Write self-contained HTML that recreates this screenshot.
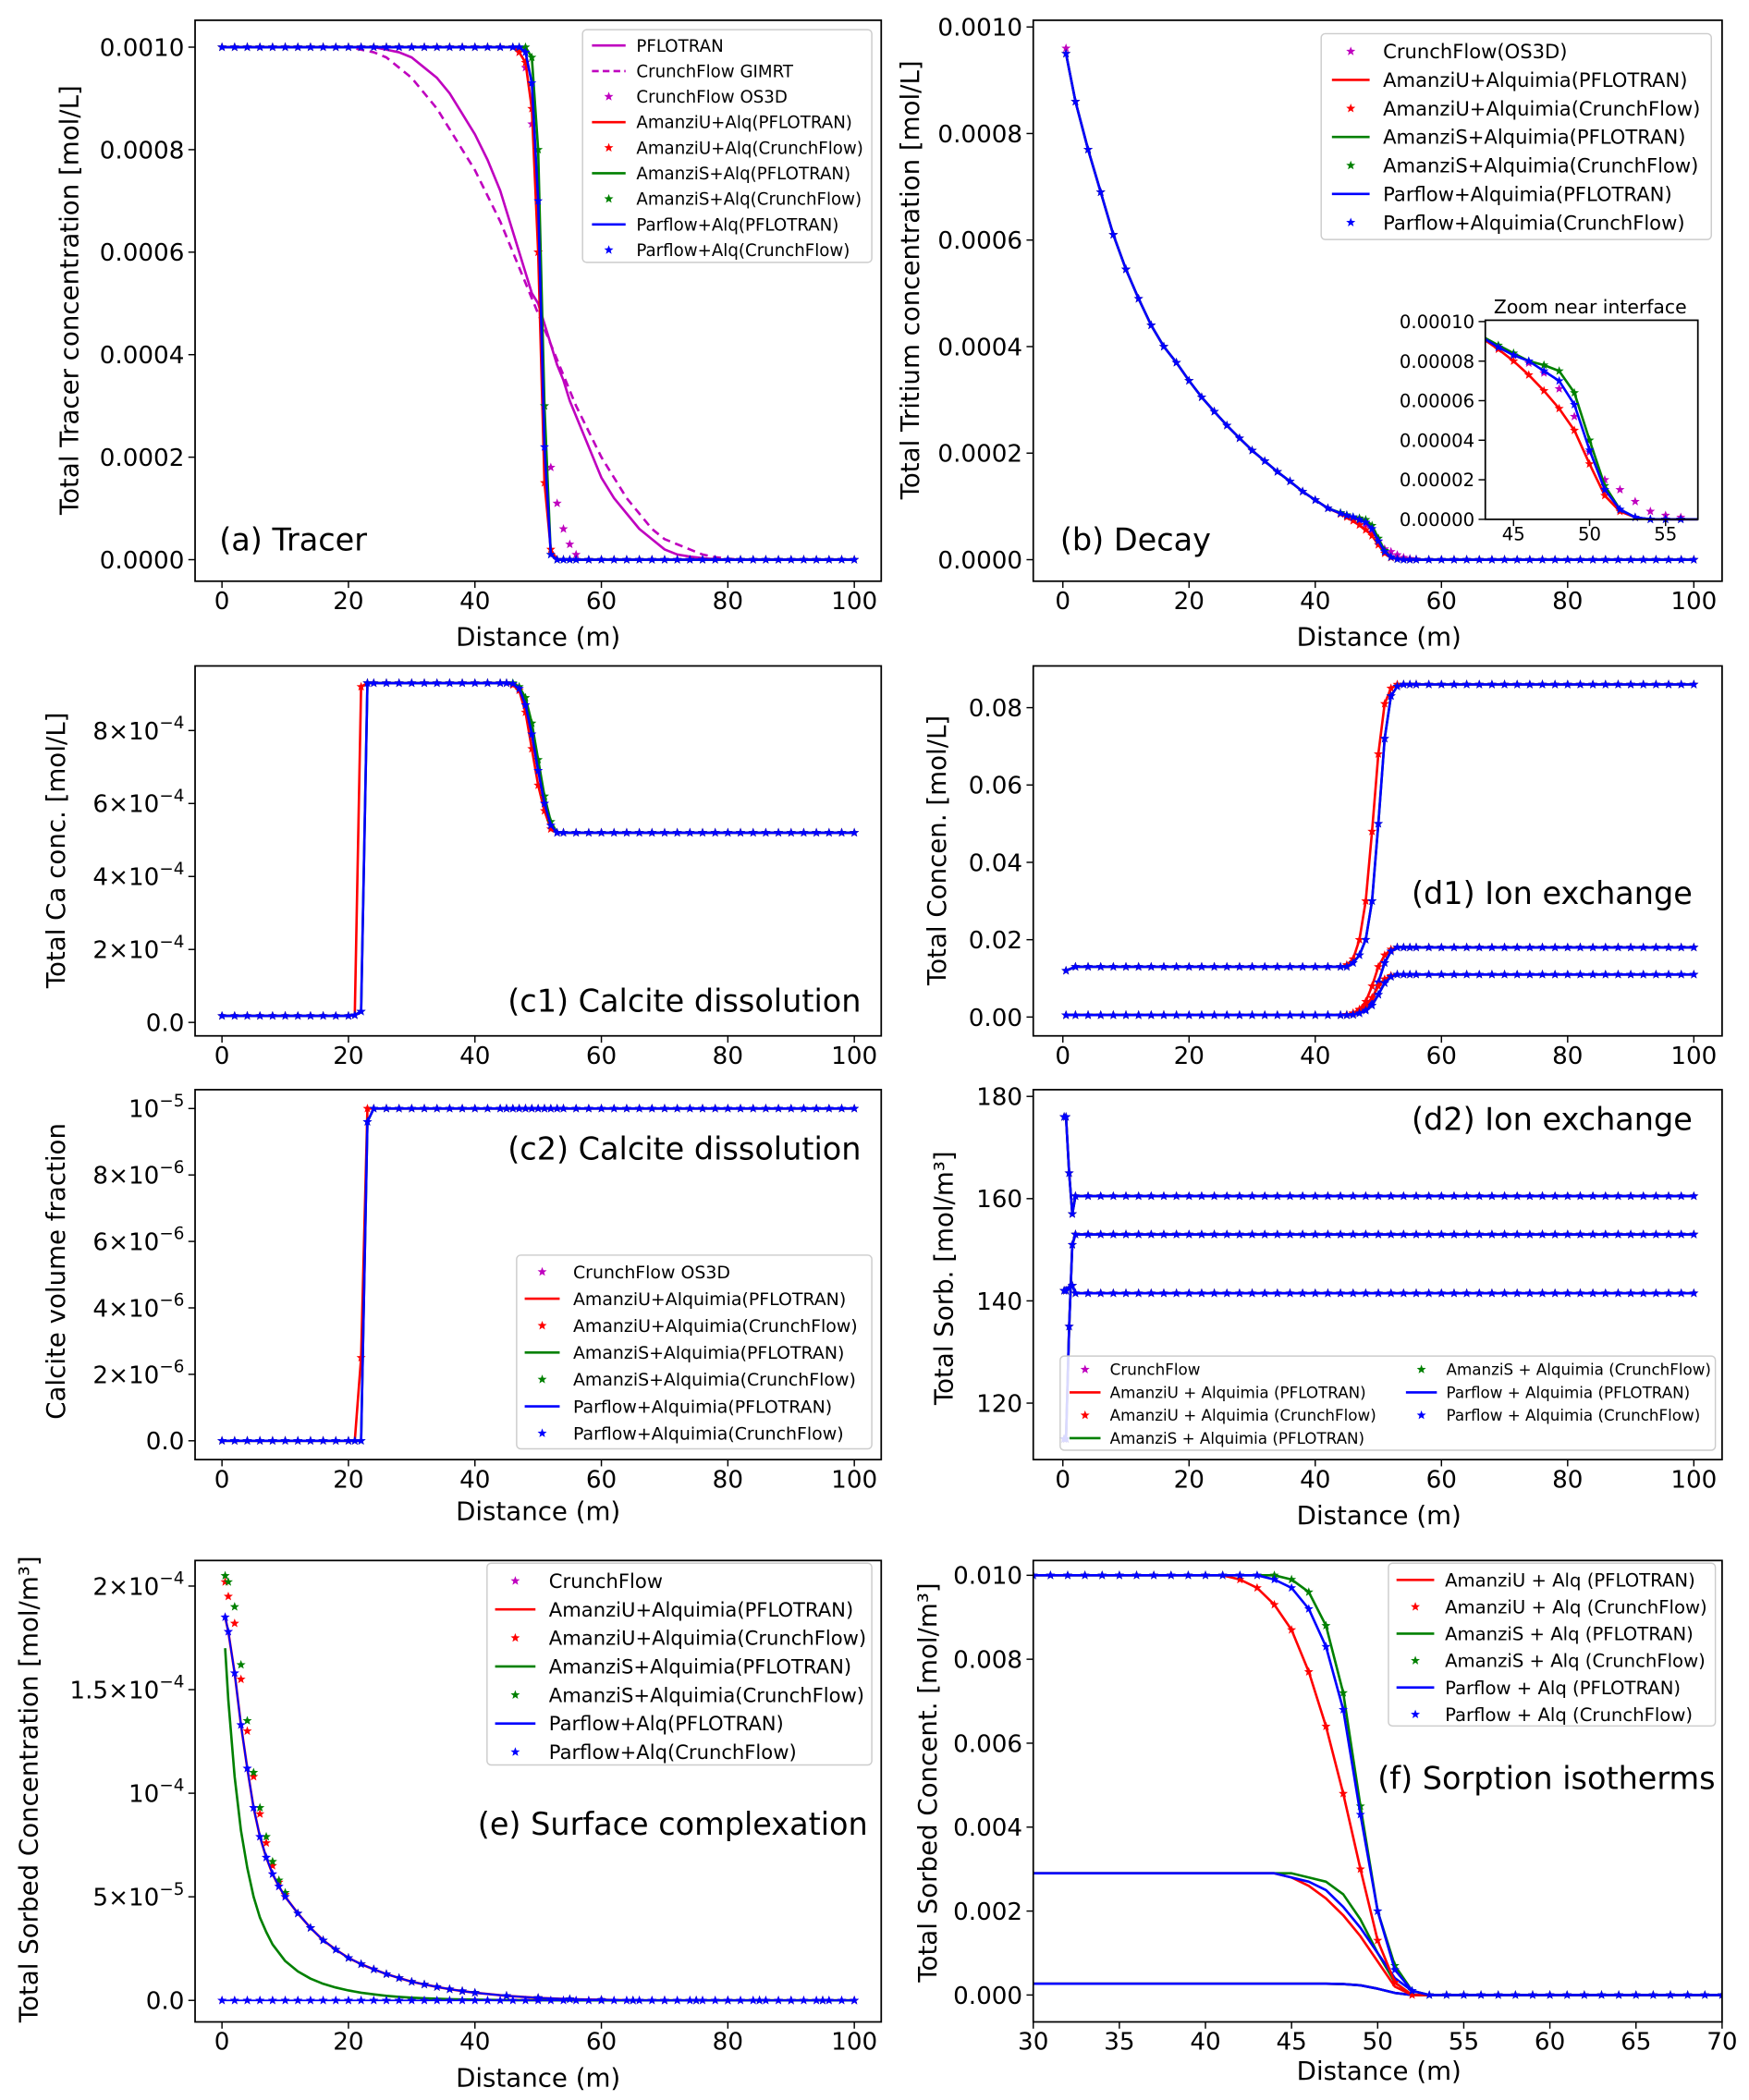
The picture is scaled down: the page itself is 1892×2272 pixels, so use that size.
<!DOCTYPE html>
<html><head><meta charset="utf-8"><style>
html,body{margin:0;padding:0;background:#fff}
svg{display:block}
text{font-family:"DejaVu Sans","Liberation Sans",sans-serif;fill:#000}
</style></head><body>
<svg id="fig" xmlns="http://www.w3.org/2000/svg" width="1892" height="2272" viewBox="0 0 1300 1561"></svg>
<script>
// ---------- DATA ----------
const XA=[0,2,4,6,8,10,12,14,16,18,20,22,24,26,28,30,32,34,36,38,40,42,44,46,47,48,49,50,51,52,53,54,55,56,58,60,62,64,66,68,70,72,74,76,78,80,82,84,86,88,90,92,94,96,98,100];
const A_PF=[0.001,0.001,0.001,0.001,0.001,0.001,0.001,0.001,0.001,0.001,0.001,0.001,0.001,0.000995,0.00099,0.00098,0.00096,0.00094,0.00091,0.00087,0.00083,0.00078,0.00072,0.00064,0.0006,0.00056,0.00052,0.0005,0.00046,0.00042,0.00038,0.00035,0.00031,0.00028,0.00022,0.00016,0.00012,0.00009,0.00006,0.00004,0.00002,0.00001,0.000006,0.000003,0.000001,0,0,0,0,0,0,0,0,0,0,0];
const A_GIMRT=[0.001,0.001,0.001,0.001,0.001,0.001,0.001,0.001,0.001,0.001,0.001,0.000995,0.00099,0.00098,0.00096,0.00094,0.00091,0.00088,0.00084,0.0008,0.00076,0.00071,0.00066,0.0006,0.00057,0.00054,0.00051,0.00048,0.00045,0.00042,0.00039,0.00036,0.00033,0.0003,0.00025,0.0002,0.00016,0.00012,0.00009,0.00006,0.00004,0.00003,0.00002,0.00001,0.000005,0.000002,0,0,0,0,0,0,0,0,0,0];
const A_OS3D=[0.001,0.001,0.001,0.001,0.001,0.001,0.001,0.001,0.001,0.001,0.001,0.001,0.001,0.001,0.001,0.001,0.001,0.001,0.001,0.001,0.001,0.001,0.001,0.001,0.00099,0.00096,0.00085,0.0006,0.0003,0.00018,0.00011,0.00006,0.00003,0.00001,0,0,0,0,0,0,0,0,0,0,0,0,0,0,0,0,0,0,0,0,0,0];
const A_AU=[0.001,0.001,0.001,0.001,0.001,0.001,0.001,0.001,0.001,0.001,0.001,0.001,0.001,0.001,0.001,0.001,0.001,0.001,0.001,0.001,0.001,0.001,0.001,0.001,0.00099,0.00097,0.00088,0.0006,0.00015,0.00002,0,0,0,0,0,0,0,0,0,0,0,0,0,0,0,0,0,0,0,0,0,0,0,0,0,0];
const A_AS=[0.001,0.001,0.001,0.001,0.001,0.001,0.001,0.001,0.001,0.001,0.001,0.001,0.001,0.001,0.001,0.001,0.001,0.001,0.001,0.001,0.001,0.001,0.001,0.001,0.001,0.001,0.00098,0.0008,0.0003,0.00001,0,0,0,0,0,0,0,0,0,0,0,0,0,0,0,0,0,0,0,0,0,0,0,0,0,0];
const A_PA=[0.001,0.001,0.001,0.001,0.001,0.001,0.001,0.001,0.001,0.001,0.001,0.001,0.001,0.001,0.001,0.001,0.001,0.001,0.001,0.001,0.001,0.001,0.001,0.001,0.001,0.00099,0.00093,0.0007,0.00022,0.00001,0,0,0,0,0,0,0,0,0,0,0,0,0,0,0,0,0,0,0,0,0,0,0,0,0,0];

const XB=[0.5,2,4,6,8,10,12,14,16,18,20,22,24,26,28,30,32,34,36,38,40,42,44,45,46,47,48,49,50,51,52,53,54,55,56,58,60,62,64,66,68,70,72,74,76,78,80,82,84,86,88,90,92,94,96,98,100];
const B_R=[0.00095,0.00086,0.00077,0.00069,0.00061,0.000545,0.00049,0.00044,0.0004,0.00037,0.000336,0.000305,0.000278,0.000252,0.000228,0.000205,0.000185,0.000165,0.000147,0.000128,0.000112,0.0000965,0.000086,0.00008,0.000073,0.000065,0.000056,0.000045,0.000028,0.000012,0.000004,0.000001,0,0,0,0,0,0,0,0,0,0,0,0,0,0,0,0,0,0,0,0,0,0,0,0,0];
const B_G=[0.00095,0.00086,0.00077,0.00069,0.00061,0.000545,0.00049,0.00044,0.0004,0.00037,0.000336,0.000305,0.000278,0.000252,0.000228,0.000205,0.000185,0.000165,0.000147,0.000128,0.000112,0.0000965,0.000088,0.000084,0.00008,0.000078,0.000075,0.000064,0.00004,0.000017,0.000005,0.000001,0,0,0,0,0,0,0,0,0,0,0,0,0,0,0,0,0,0,0,0,0,0,0,0,0];
const B_B=[0.00095,0.00086,0.00077,0.00069,0.00061,0.000545,0.00049,0.00044,0.0004,0.00037,0.000336,0.000305,0.000278,0.000252,0.000228,0.000205,0.000185,0.000165,0.000147,0.000128,0.000112,0.0000965,0.000087,0.000083,0.00008,0.000075,0.00007,0.000058,0.000035,0.000015,0.000005,0.000001,0,0,0,0,0,0,0,0,0,0,0,0,0,0,0,0,0,0,0,0,0,0,0,0,0];
const B_M=[0.00096,0.00086,0.00077,0.00069,0.00061,0.000545,0.00049,0.00044,0.0004,0.00037,0.000336,0.000305,0.000278,0.000252,0.000228,0.000205,0.000185,0.000165,0.000147,0.000128,0.000112,0.0000965,0.000087,0.000083,0.000079,0.000074,0.000066,0.000052,0.000034,0.00002,0.000015,0.000009,0.000004,0.000002,0.000001,0,0,0,0,0,0,0,0,0,0,0,0,0,0,0,0,0,0,0,0,0,0];

const XC=[0,2,4,6,8,10,12,14,16,18,20,21,22,23,24,26,28,30,32,34,36,38,40,42,44,45,46,47,48,49,50,51,52,53,54,56,58,60,62,64,66,68,70,72,74,76,78,80,82,84,86,88,90,92,94,96,98,100];
const C_R=[1.8e-5,1.8e-5,1.8e-5,1.8e-5,1.8e-5,1.8e-5,1.8e-5,1.8e-5,1.8e-5,1.8e-5,1.8e-5,2e-5,9.2e-4,9.3e-4,9.3e-4,9.3e-4,9.3e-4,9.3e-4,9.3e-4,9.3e-4,9.3e-4,9.3e-4,9.3e-4,9.3e-4,9.3e-4,9.3e-4,9.25e-4,9.1e-4,8.5e-4,7.5e-4,6.5e-4,5.8e-4,5.3e-4,5.2e-4,5.2e-4,5.2e-4,5.2e-4,5.2e-4,5.2e-4,5.2e-4,5.2e-4,5.2e-4,5.2e-4,5.2e-4,5.2e-4,5.2e-4,5.2e-4,5.2e-4,5.2e-4,5.2e-4,5.2e-4,5.2e-4,5.2e-4,5.2e-4,5.2e-4,5.2e-4,5.2e-4,5.2e-4];
const C_G=[1.8e-5,1.8e-5,1.8e-5,1.8e-5,1.8e-5,1.8e-5,1.8e-5,1.8e-5,1.8e-5,1.8e-5,1.8e-5,2e-5,3e-5,9.3e-4,9.3e-4,9.3e-4,9.3e-4,9.3e-4,9.3e-4,9.3e-4,9.3e-4,9.3e-4,9.3e-4,9.3e-4,9.3e-4,9.3e-4,9.3e-4,9.2e-4,8.9e-4,8.2e-4,7.2e-4,6.2e-4,5.5e-4,5.2e-4,5.2e-4,5.2e-4,5.2e-4,5.2e-4,5.2e-4,5.2e-4,5.2e-4,5.2e-4,5.2e-4,5.2e-4,5.2e-4,5.2e-4,5.2e-4,5.2e-4,5.2e-4,5.2e-4,5.2e-4,5.2e-4,5.2e-4,5.2e-4,5.2e-4,5.2e-4,5.2e-4,5.2e-4];
const C_B=[1.8e-5,1.8e-5,1.8e-5,1.8e-5,1.8e-5,1.8e-5,1.8e-5,1.8e-5,1.8e-5,1.8e-5,1.8e-5,2e-5,3e-5,9.3e-4,9.3e-4,9.3e-4,9.3e-4,9.3e-4,9.3e-4,9.3e-4,9.3e-4,9.3e-4,9.3e-4,9.3e-4,9.3e-4,9.3e-4,9.28e-4,9.15e-4,8.7e-4,7.9e-4,6.9e-4,6e-4,5.4e-4,5.2e-4,5.2e-4,5.2e-4,5.2e-4,5.2e-4,5.2e-4,5.2e-4,5.2e-4,5.2e-4,5.2e-4,5.2e-4,5.2e-4,5.2e-4,5.2e-4,5.2e-4,5.2e-4,5.2e-4,5.2e-4,5.2e-4,5.2e-4,5.2e-4,5.2e-4,5.2e-4,5.2e-4,5.2e-4];
const C2_R=[0,0,0,0,0,0,0,0,0,0,0,0,2.5e-6,1e-5,1e-5,1e-5,1e-5,1e-5,1e-5,1e-5,1e-5,1e-5,1e-5,1e-5,1e-5,1e-5,1e-5,1e-5,1e-5,1e-5,1e-5,1e-5,1e-5,1e-5,1e-5,1e-5,1e-5,1e-5,1e-5,1e-5,1e-5,1e-5,1e-5,1e-5,1e-5,1e-5,1e-5,1e-5,1e-5,1e-5,1e-5,1e-5,1e-5,1e-5,1e-5,1e-5,1e-5,1e-5];
const C2_B=[0,0,0,0,0,0,0,0,0,0,0,0,0,9.6e-6,1e-5,1e-5,1e-5,1e-5,1e-5,1e-5,1e-5,1e-5,1e-5,1e-5,1e-5,1e-5,1e-5,1e-5,1e-5,1e-5,1e-5,1e-5,1e-5,1e-5,1e-5,1e-5,1e-5,1e-5,1e-5,1e-5,1e-5,1e-5,1e-5,1e-5,1e-5,1e-5,1e-5,1e-5,1e-5,1e-5,1e-5,1e-5,1e-5,1e-5,1e-5,1e-5,1e-5,1e-5];

const D_UR=[0.012,0.013,0.013,0.013,0.013,0.013,0.013,0.013,0.013,0.013,0.013,0.013,0.013,0.013,0.013,0.013,0.013,0.013,0.013,0.013,0.013,0.013,0.013,0.0135,0.015,0.02,0.03,0.048,0.068,0.081,0.085,0.086,0.086,0.086,0.086,0.086,0.086,0.086,0.086,0.086,0.086,0.086,0.086,0.086,0.086,0.086,0.086,0.086,0.086,0.086,0.086,0.086,0.086,0.086,0.086,0.086,0.086];
const D_UB=[0.012,0.013,0.013,0.013,0.013,0.013,0.013,0.013,0.013,0.013,0.013,0.013,0.013,0.013,0.013,0.013,0.013,0.013,0.013,0.013,0.013,0.013,0.013,0.013,0.014,0.016,0.02,0.03,0.05,0.072,0.083,0.0855,0.086,0.086,0.086,0.086,0.086,0.086,0.086,0.086,0.086,0.086,0.086,0.086,0.086,0.086,0.086,0.086,0.086,0.086,0.086,0.086,0.086,0.086,0.086,0.086,0.086];
const D_MR=[0.0005,0.0005,0.0005,0.0005,0.0005,0.0005,0.0005,0.0005,0.0005,0.0005,0.0005,0.0005,0.0005,0.0005,0.0005,0.0005,0.0005,0.0005,0.0005,0.0005,0.0005,0.0005,0.0005,0.0006,0.001,0.002,0.004,0.008,0.013,0.016,0.0175,0.018,0.018,0.018,0.018,0.018,0.018,0.018,0.018,0.018,0.018,0.018,0.018,0.018,0.018,0.018,0.018,0.018,0.018,0.018,0.018,0.018,0.018,0.018,0.018,0.018,0.018];
const D_MB=[0.0005,0.0005,0.0005,0.0005,0.0005,0.0005,0.0005,0.0005,0.0005,0.0005,0.0005,0.0005,0.0005,0.0005,0.0005,0.0005,0.0005,0.0005,0.0005,0.0005,0.0005,0.0005,0.0005,0.0005,0.0006,0.001,0.002,0.004,0.009,0.014,0.017,0.018,0.018,0.018,0.018,0.018,0.018,0.018,0.018,0.018,0.018,0.018,0.018,0.018,0.018,0.018,0.018,0.018,0.018,0.018,0.018,0.018,0.018,0.018,0.018,0.018,0.018];
const D_LR=[0.0005,0.0005,0.0005,0.0005,0.0005,0.0005,0.0005,0.0005,0.0005,0.0005,0.0005,0.0005,0.0005,0.0005,0.0005,0.0005,0.0005,0.0005,0.0005,0.0005,0.0005,0.0005,0.0005,0.0006,0.001,0.0018,0.003,0.005,0.008,0.0098,0.0107,0.011,0.011,0.011,0.011,0.011,0.011,0.011,0.011,0.011,0.011,0.011,0.011,0.011,0.011,0.011,0.011,0.011,0.011,0.011,0.011,0.011,0.011,0.011,0.011,0.011,0.011];
const D_LB=[0.0005,0.0005,0.0005,0.0005,0.0005,0.0005,0.0005,0.0005,0.0005,0.0005,0.0005,0.0005,0.0005,0.0005,0.0005,0.0005,0.0005,0.0005,0.0005,0.0005,0.0005,0.0005,0.0005,0.0005,0.0006,0.001,0.0017,0.003,0.0058,0.0088,0.0104,0.011,0.011,0.011,0.011,0.011,0.011,0.011,0.011,0.011,0.011,0.011,0.011,0.011,0.011,0.011,0.011,0.011,0.011,0.011,0.011,0.011,0.011,0.011,0.011,0.011,0.011];

const XE=[0.2,0.5,1,1.5,2,4,6,8,10,12,14,16,18,20,22,24,26,28,30,32,34,36,38,40,42,44,46,48,50,52,54,56,58,60,62,64,66,68,70,72,74,76,78,80,82,84,86,88,90,92,94,96,98,100];
const E_TOP=[176,176,165,157,160.5,160.5,160.5,160.5,160.5,160.5,160.5,160.5,160.5,160.5,160.5,160.5,160.5,160.5,160.5,160.5,160.5,160.5,160.5,160.5,160.5,160.5,160.5,160.5,160.5,160.5,160.5,160.5,160.5,160.5,160.5,160.5,160.5,160.5,160.5,160.5,160.5,160.5,160.5,160.5,160.5,160.5,160.5,160.5,160.5,160.5,160.5,160.5,160.5,160.5];
const E_MID=[113,113,135,151,153,153,153,153,153,153,153,153,153,153,153,153,153,153,153,153,153,153,153,153,153,153,153,153,153,153,153,153,153,153,153,153,153,153,153,153,153,153,153,153,153,153,153,153,153,153,153,153,153,153];
const E_LOW=[142,142,142.5,143,141.5,141.5,141.5,141.5,141.5,141.5,141.5,141.5,141.5,141.5,141.5,141.5,141.5,141.5,141.5,141.5,141.5,141.5,141.5,141.5,141.5,141.5,141.5,141.5,141.5,141.5,141.5,141.5,141.5,141.5,141.5,141.5,141.5,141.5,141.5,141.5,141.5,141.5,141.5,141.5,141.5,141.5,141.5,141.5,141.5,141.5,141.5,141.5,141.5,141.5];

const XF=[0.5,1,2,3,4,5,6,7,8,9,10,12,14,16,18,20,22,24,26,28,30,32,34,36,38,40,45,50,55,60,65,70,75,80,85,90,95,100];
const F_B=[1.85e-4,1.78e-4,1.58e-4,1.33e-4,1.12e-4,9.3e-5,7.9e-5,6.9e-5,6.1e-5,5.5e-5,5e-5,4.2e-5,3.5e-5,2.9e-5,2.45e-5,2.05e-5,1.75e-5,1.5e-5,1.27e-5,1.08e-5,9e-6,7.7e-6,6.5e-6,5.4e-6,4.5e-6,3.7e-6,2.2e-6,1.2e-6,6e-7,3e-7,0,0,0,0,0,0,0,0];
const F_G=[1.7e-4,1.45e-4,1.08e-4,8.2e-5,6.4e-5,5e-5,4e-5,3.3e-5,2.7e-5,2.3e-5,1.9e-5,1.4e-5,1.05e-5,8e-6,6.2e-6,4.8e-6,3.7e-6,2.9e-6,2.2e-6,1.7e-6,1.3e-6,1e-6,8e-7,6e-7,4.5e-7,3.5e-7,1.5e-7,6e-8,0,0,0,0,0,0,0,0,0,0];
const F_GS=[2.05e-4,2.02e-4,1.9e-4,1.62e-4,1.35e-4,1.1e-4,9.3e-5,7.9e-5,6.7e-5,5.8e-5,5.2e-5,4.2e-5,3.5e-5,2.9e-5,2.45e-5,2.05e-5,1.75e-5,1.5e-5,1.27e-5,1.08e-5,9e-6,7.7e-6,6.5e-6,5.4e-6,4.5e-6,3.7e-6,2.2e-6,1.2e-6,6e-7,3e-7,0,0,0,0,0,0,0,0];
const F_RS=[2.02e-4,1.95e-4,1.82e-4,1.55e-4,1.3e-4,1.08e-4,9e-5,7.6e-5,6.5e-5,5.7e-5,5.1e-5,4.2e-5,3.5e-5,2.9e-5,2.45e-5,2.05e-5,1.75e-5,1.5e-5,1.27e-5,1.08e-5,9e-6,7.7e-6,6.5e-6,5.4e-6,4.5e-6,3.7e-6,2.2e-6,1.2e-6,6e-7,3e-7,0,0,0,0,0,0,0,0];
const XZ=[0,2,4,6,8,10,12,14,16,18,20,22,24,26,28,30,32,34,36,38,40,42,44,46,48,50,52,54,56,58,60,62,64,66,68,70,72,74,76,78,80,82,84,86,88,90,92,94,96,98,100];
const F_Z=[0,0,0,0,0,0,0,0,0,0,0,0,0,0,0,0,0,0,0,0,0,0,0,0,0,0,0,0,0,0,0,0,0,0,0,0,0,0,0,0,0,0,0,0,0,0,0,0,0,0,0];

const XG=[30,31,32,33,34,35,36,37,38,39,40,41,42,43,44,45,46,47,48,49,50,51,52,53,54,55,56,57,58,59,60,61,62,63,64,65,66,67,68,69,70];
const G_UR=[0.01,0.01,0.01,0.01,0.01,0.01,0.01,0.01,0.01,0.01,0.01,0.01,0.0099,0.0097,0.0093,0.0087,0.0077,0.0064,0.0048,0.003,0.0013,0.0003,0,0,0,0,0,0,0,0,0,0,0,0,0,0,0,0,0,0,0];
const G_UG=[0.01,0.01,0.01,0.01,0.01,0.01,0.01,0.01,0.01,0.01,0.01,0.01,0.01,0.01,0.01,0.0099,0.0096,0.0088,0.0072,0.0045,0.002,0.0007,0.0001,0,0,0,0,0,0,0,0,0,0,0,0,0,0,0,0,0,0];
const G_UB=[0.01,0.01,0.01,0.01,0.01,0.01,0.01,0.01,0.01,0.01,0.01,0.01,0.01,0.01,0.0099,0.0097,0.0092,0.0083,0.0068,0.0043,0.002,0.0006,0.0001,0,0,0,0,0,0,0,0,0,0,0,0,0,0,0,0,0,0];
const G_MR=[0.0029,0.0029,0.0029,0.0029,0.0029,0.0029,0.0029,0.0029,0.0029,0.0029,0.0029,0.0029,0.0029,0.0029,0.0029,0.0028,0.0026,0.0023,0.0019,0.0014,0.0008,0.0002,0,0,0,0,0,0,0,0,0,0,0,0,0,0,0,0,0,0,0];
const G_MG=[0.0029,0.0029,0.0029,0.0029,0.0029,0.0029,0.0029,0.0029,0.0029,0.0029,0.0029,0.0029,0.0029,0.0029,0.0029,0.0029,0.0028,0.0027,0.0024,0.0018,0.001,0.0003,0,0,0,0,0,0,0,0,0,0,0,0,0,0,0,0,0,0,0];
const G_MB=[0.0029,0.0029,0.0029,0.0029,0.0029,0.0029,0.0029,0.0029,0.0029,0.0029,0.0029,0.0029,0.0029,0.0029,0.0029,0.0028,0.0027,0.0025,0.0021,0.0016,0.001,0.0004,0.0001,0,0,0,0,0,0,0,0,0,0,0,0,0,0,0,0,0,0];
const G_L=[0.00027,0.00027,0.00027,0.00027,0.00027,0.00027,0.00027,0.00027,0.00027,0.00027,0.00027,0.00027,0.00027,0.00027,0.00027,0.00027,0.00027,0.00027,0.00026,0.00023,0.00015,0.00005,0,0,0,0,0,0,0,0,0,0,0,0,0,0,0,0,0,0,0];

const TICK_X100=["0","20","40","60","80","100"];
const TICK_XF=["30","35","40","45","50","55","60","65","70"];
const TICK_A=["0.0000","0.0002","0.0004","0.0006","0.0008","0.0010"];
const TICK_C1=["0.0","2×10^−4","4×10^−4","6×10^−4","8×10^−4"];
const TICK_D1=["0.00","0.02","0.04","0.06","0.08"];
const TICK_C2=["0.0","2×10^−6","4×10^−6","6×10^−6","8×10^−6","10^−5"];
const TICK_D2=["120","140","160","180"];
const TICK_E=["0.0","5×10^−5","10^−4","1.5×10^−4","2×10^−4"];
const TICK_F=["0.000","0.002","0.004","0.006","0.008","0.010"];
const TICK_IN_Y=["0.00000","0.00002","0.00004","0.00006","0.00008","0.00010"];
const TICK_IN_X=["45","50","55"];

// ---------- RENDER ----------
const NS="http://www.w3.org/2000/svg";
const svg=document.getElementById('fig');
const M='#bf00bf',R='#ff0000',G='#008000',B='#0000ff';
function el(tag,attrs,parent){const e=document.createElementNS(NS,tag);for(const k in attrs)e.setAttribute(k,attrs[k]);(parent||svg).appendChild(e);return e;}
function lin(d0,p0,d1,p1){return v=>p0+(v-d0)*(p1-p0)/(d1-d0);}
let clipN=0;
function panel(name,L,Rt,T,Bm,sx,sy){
  const g=el('g',{});
  
  
  const id='clip'+(clipN++);
  const cp=el('clipPath',{id:id},g);el('rect',{x:L,y:T-6,width:Rt-L,height:Bm-T+12},cp);
  const data=el('g',{'clip-path':'url(#'+id+')'},g);
  
  
  return {g,data,L,Rt,T,Bm,sx,sy};
}
function frame(p){const f=el('rect',{x:p.L,y:p.T,width:p.Rt-p.L,height:p.Bm-p.T,fill:'none',stroke:'#000','stroke-width':1.2},p.g);
  
  }
function tickText(parent,x,y,label,anchor,size){
  const t=el('text',{x:x,y:y,'text-anchor':anchor,'font-size':size},parent);
  const parts=label.split('^');t.textContent=parts[0];
  if(parts[1]){const s=el('tspan',{dy:-size*0.45,'font-size':size*0.7},t);s.textContent=parts[1];}
  
  
}
function xticks(p,vals,labels,size){vals.forEach((v,i)=>{const x=p.sx(v);
  el('line',{x1:x,x2:x,y1:p.Bm,y2:p.Bm+5,stroke:'#000'},p.g);
  tickText(p.g,x,p.Bm+(size*1.15),labels[i],'middle',size);});}
function yticks(p,vals,labels,size){vals.forEach((v,i)=>{const y=p.sy(v);
  el('line',{x1:p.L-5,x2:p.L,y1:y,y2:y,stroke:'#000'},p.g);
  tickText(p.g,p.L-8,y+size*0.36,labels[i],'end',size);});}
function line(p,X,Y,color,name,dash,w){
  let d='';X.forEach((x,i)=>{d+=(i?'L':'M')+p.sx(x).toFixed(2)+','+p.sy(Y[i]).toFixed(2);});
  const a={d:d,fill:'none',stroke:color,'stroke-width':w||1.8,'stroke-linejoin':'round'};if(dash)a['stroke-dasharray']=dash;
  const e=el('path',a,p.data);
  
  
}
function starPath(cx,cy,r){let d='';for(let k=0;k<10;k++){const rr=k%2?r*0.42:r;const a=-Math.PI/2+k*Math.PI/5;d+=(k?'L':'M')+(cx+rr*Math.cos(a)).toFixed(2)+','+(cy+rr*Math.sin(a)).toFixed(2);}return d+'Z';}
function stars(p,X,Y,color,name,r){X.forEach((x,i)=>{
  const e=el('path',{d:starPath(p.sx(x),p.sy(Y[i]),r||3.6),fill:color},p.data);
  
  });}
function label(parent,x,y,txt,size,anchor,rot,name){
  const a={x:x,y:y,'font-size':size,'text-anchor':anchor||'middle'};if(rot)a.transform='rotate(-90 '+x+' '+y+')';
  const t=el('text',a,parent);t.textContent=txt;
  
  return t;}
function legend(parent,x,y,w,h,entries,dy,lineX0,lineX1,textX,size){
  const g=el('g',{},parent);
  
  
  el('rect',{x:x,y:y,width:w,height:h,rx:3,fill:'#fff','fill-opacity':0.85,stroke:'#ccc'},g);
  entries.forEach((en,i)=>{const yy=en.y!==undefined?en.y:y+dy*(i+0.62);const lx0=en.lx0||lineX0,lx1=en.lx1||lineX1,tx=en.tx||textX;
    const eg=el('g',{},g);
    
    
    if(en.t==='s')el('path',{d:starPath((lx0+lx1)/2,yy,3.6),fill:en.c},eg);
    else{const a={x1:lx0,x2:lx1,y1:yy,y2:yy,stroke:en.c,'stroke-width':1.8};if(en.t==='d')a['stroke-dasharray']='5,3';el('line',a,eg);}
    const t=el('text',{x:tx,y:yy+size*0.36,'font-size':size},eg);t.textContent=en.l;});
}
const X100=[0,20,40,60,80,100];
const sxL=lin(0,165,100,635), sxR=lin(0,790,100,1259);

// (a)
let p=panel('panel-a-tracer',145,655,15,432,sxL,lin(0,416,0.001,35));
line(p,XA,A_PF,M,'pflotran-line');line(p,XA,A_GIMRT,M,'gimrt-line','6,4');stars(p,XA,A_OS3D,M,'os3d-marker');
line(p,XA,A_AU,R,'amanziu-line');stars(p,XA,A_AU,R,'amanziu-marker');
line(p,XA,A_AS,G,'amanzis-line');stars(p,XA,A_AS,G,'amanzis-marker');
line(p,XA,A_PA,B,'parflow-line');stars(p,XA,A_PA,B,'parflow-marker');
frame(p);xticks(p,X100,TICK_X100,18);yticks(p,[0,0.0002,0.0004,0.0006,0.0008,0.001],TICK_A,18);
label(p.g,400,480,'Distance (m)',19,'middle',0,'x-axis-title');
label(p.g,58,223,'Total Tracer concentration [mol/L]',19,'middle',1,'y-axis-title');
label(p.g,163,409,'(a) Tracer',23,'start',0,'panel-title');
legend(p.g,433,22,215,173,[{t:'l',c:M,l:'PFLOTRAN'},{t:'d',c:M,l:'CrunchFlow GIMRT'},{t:'s',c:M,l:'CrunchFlow OS3D'},{t:'l',c:R,l:'AmanziU+Alq(PFLOTRAN)'},{t:'s',c:R,l:'AmanziU+Alq(CrunchFlow)'},{t:'l',c:G,l:'AmanziS+Alq(PFLOTRAN)'},{t:'s',c:G,l:'AmanziS+Alq(CrunchFlow)'},{t:'l',c:B,l:'Parflow+Alq(PFLOTRAN)'},{t:'s',c:B,l:'Parflow+Alq(CrunchFlow)'}],19,440,465,473,12.5);

// (b)
p=panel('panel-b-decay',768,1280,15,432,sxR,lin(0,416,0.001,20));
stars(p,XB,B_M,M,'os3d-marker');line(p,XB,B_R,R,'amanziu-line');stars(p,XB,B_R,R,'amanziu-marker');
line(p,XB,B_G,G,'amanzis-line');stars(p,XB,B_G,G,'amanzis-marker');line(p,XB,B_B,B,'parflow-line');stars(p,XB,B_B,B,'parflow-marker');
frame(p);xticks(p,X100,TICK_X100,18);yticks(p,[0,0.0002,0.0004,0.0006,0.0008,0.001],TICK_A,18);
label(p.g,1025,480,'Distance (m)',19,'middle',0,'x-axis-title');
label(p.g,683,208,'Total Tritium concentration [mol/L]',19,'middle',1,'y-axis-title');
label(p.g,788,409,'(b) Decay',23,'start',0,'panel-title');
legend(p.g,982,25,290,153,[{t:'s',c:M,l:'CrunchFlow(OS3D)'},{t:'l',c:R,l:'AmanziU+Alquimia(PFLOTRAN)'},{t:'s',c:R,l:'AmanziU+Alquimia(CrunchFlow)'},{t:'l',c:G,l:'AmanziS+Alquimia(PFLOTRAN)'},{t:'s',c:G,l:'AmanziS+Alquimia(CrunchFlow)'},{t:'l',c:B,l:'Parflow+Alquimia(PFLOTRAN)'},{t:'s',c:B,l:'Parflow+Alquimia(CrunchFlow)'}],21.2,990,1018,1028,14.5);
// inset
let q=panel('decay-inset',1104,1262,238,386,lin(45,1125,55,1238),lin(0,386,0.0001,239));
el('rect',{x:1104,y:238,width:158,height:148,fill:'#fff'},q.data);
stars(q,XB,B_M,M,'os3d-marker');line(q,XB,B_R,R,'amanziu-line');stars(q,XB,B_R,R,'amanziu-marker');
line(q,XB,B_G,G,'amanzis-line');stars(q,XB,B_G,G,'amanzis-marker');line(q,XB,B_B,B,'parflow-line');stars(q,XB,B_B,B,'parflow-marker');
frame(q);xticks(q,[45,50,55],TICK_IN_X,13.5);yticks(q,[0,0.00002,0.00004,0.00006,0.00008,0.0001],TICK_IN_Y,13.5);
label(q.g,1182,233,'Zoom near interface',14,'middle',0,'inset-title');

// (c1)
p=panel('panel-c1-calcite',145,655,495,770,sxL,lin(0,760,8e-4,543));
stars(p,XC,C_B,M,'crunchflow-marker');line(p,XC,C_R,R,'amanziu-line');stars(p,XC,C_R,R,'amanziu-marker');
line(p,XC,C_G,G,'amanzis-line');stars(p,XC,C_G,G,'amanzis-marker');line(p,XC,C_B,B,'parflow-line');stars(p,XC,C_B,B,'parflow-marker');
frame(p);xticks(p,X100,TICK_X100,18);yticks(p,[0,2e-4,4e-4,6e-4,8e-4],TICK_C1,18);
label(p.g,48,632,'Total Ca conc. [mol/L]',19,'middle',1,'y-axis-title');
label(p.g,640,752,'(c1) Calcite dissolution',23,'end',0,'panel-title');

// (d1)
p=panel('panel-d1-ion-exchange',768,1280,495,770,sxR,lin(0,756,0.08,526));
[[D_UR,D_UB],[D_MR,D_MB],[D_LR,D_LB]].forEach(s=>{stars(p,XB,s[1],M,'crunchflow-marker');line(p,XB,s[0],R,'amanziu-line');stars(p,XB,s[0],R,'amanziu-marker');
line(p,XB,s[1],G,'amanzis-line');stars(p,XB,s[1],G,'amanzis-marker');line(p,XB,s[1],B,'parflow-line');stars(p,XB,s[1],B,'parflow-marker');});
frame(p);xticks(p,X100,TICK_X100,18);yticks(p,[0,0.02,0.04,0.06,0.08],TICK_D1,18);
label(p.g,703,632,'Total Concen. [mol/L]',19,'middle',1,'y-axis-title');
label(p.g,1258,672,'(d1) Ion exchange',23,'end',0,'panel-title');

// (c2)
p=panel('panel-c2-calcite-volume',145,655,810,1085,sxL,lin(0,1071,1e-5,824));
stars(p,XC,C2_B,M,'crunchflow-marker');line(p,XC,C2_R,R,'amanziu-line');stars(p,XC,C2_R,R,'amanziu-marker');
line(p,XC,C2_B,G,'amanzis-line');stars(p,XC,C2_B,G,'amanzis-marker');line(p,XC,C2_B,B,'parflow-line');stars(p,XC,C2_B,B,'parflow-marker');
frame(p);xticks(p,X100,TICK_X100,18);yticks(p,[0,2e-6,4e-6,6e-6,8e-6,1e-5],TICK_C2,18);
label(p.g,400,1130,'Distance (m)',19,'middle',0,'x-axis-title');
label(p.g,48,945,'Calcite volume fraction',19,'middle',1,'y-axis-title');
label(p.g,640,862,'(c2) Calcite dissolution',23,'end',0,'panel-title');
legend(p.g,384,933,264,144,[{t:'s',c:M,l:'CrunchFlow OS3D'},{t:'l',c:R,l:'AmanziU+Alquimia(PFLOTRAN)'},{t:'s',c:R,l:'AmanziU+Alquimia(CrunchFlow)'},{t:'l',c:G,l:'AmanziS+Alquimia(PFLOTRAN)'},{t:'s',c:G,l:'AmanziS+Alquimia(CrunchFlow)'},{t:'l',c:B,l:'Parflow+Alquimia(PFLOTRAN)'},{t:'s',c:B,l:'Parflow+Alquimia(CrunchFlow)'}],20,390,416,426,13);

// (d2)
p=panel('panel-d2-ion-exchange',768,1280,810,1085,sxR,lin(120,1043,180,815));
[E_TOP,E_MID,E_LOW].forEach(s=>{stars(p,XE,s,M,'crunchflow-marker');line(p,XE,s,R,'amanziu-line');stars(p,XE,s,R,'amanziu-marker');
line(p,XE,s,G,'amanzis-line');stars(p,XE,s,G,'amanzis-marker');line(p,XE,s,B,'parflow-line');stars(p,XE,s,B,'parflow-marker');});
frame(p);xticks(p,X100,TICK_X100,18);yticks(p,[120,140,160,180],TICK_D2,18);
label(p.g,1025,1133,'Distance (m)',19,'middle',0,'x-axis-title');
label(p.g,708,950,'Total Sorb. [mol/m³]',19,'middle',1,'y-axis-title');
label(p.g,1258,840,'(d2) Ion exchange',23,'end',0,'panel-title');
legend(p.g,788,1008,487,70,[{t:'s',c:M,l:'CrunchFlow',y:1018},{t:'l',c:R,l:'AmanziU + Alquimia (PFLOTRAN)',y:1035},{t:'s',c:R,l:'AmanziU + Alquimia (CrunchFlow)',y:1052},{t:'l',c:G,l:'AmanziS + Alquimia (PFLOTRAN)',y:1069},
{t:'s',c:G,l:'AmanziS + Alquimia (CrunchFlow)',y:1018,lx0:1045,lx1:1068,tx:1075},{t:'l',c:B,l:'Parflow + Alquimia (PFLOTRAN)',y:1035,lx0:1045,lx1:1068,tx:1075},{t:'s',c:B,l:'Parflow + Alquimia (CrunchFlow)',y:1052,lx0:1045,lx1:1068,tx:1075}],17,795,818,825,11.5);

// (e)
p=panel('panel-e-surface-complexation',145,655,1160,1503,sxL,lin(0,1487,2e-4,1179));
stars(p,XF,F_B,M,'crunchflow-marker');line(p,XF,F_B,R,'amanziu-line');stars(p,XF,F_RS,R,'amanziu-marker');
line(p,XF,F_G,G,'amanzis-line');stars(p,XF,F_GS,G,'amanzis-marker');line(p,XF,F_B,B,'parflow-line',null,1.4);stars(p,XF,F_B,B,'parflow-marker');
line(p,XZ,F_Z,B,'zero-line',null,1.2);stars(p,XZ,F_Z,M,'zero-marker');stars(p,XZ,F_Z,B,'zero-marker');
frame(p);xticks(p,X100,TICK_X100,18);yticks(p,[0,5e-5,1e-4,1.5e-4,2e-4],TICK_E,18);
label(p.g,400,1551,'Distance (m)',19,'middle',0,'x-axis-title');
label(p.g,28,1330,'Total Sorbed Concentration [mol/m³]',19,'middle',1,'y-axis-title');
label(p.g,645,1364,'(e) Surface complexation',23,'end',0,'panel-title');
legend(p.g,362,1162,286,150,[{t:'s',c:M,l:'CrunchFlow'},{t:'l',c:R,l:'AmanziU+Alquimia(PFLOTRAN)'},{t:'s',c:R,l:'AmanziU+Alquimia(CrunchFlow)'},{t:'l',c:G,l:'AmanziS+Alquimia(PFLOTRAN)'},{t:'s',c:G,l:'AmanziS+Alquimia(CrunchFlow)'},{t:'l',c:B,l:'Parflow+Alq(PFLOTRAN)'},{t:'s',c:B,l:'Parflow+Alq(CrunchFlow)'}],21.2,368,398,408,14.5);

// (f)
p=panel('panel-f-sorption-isotherms',768,1280,1160,1503,lin(30,768,70,1280),lin(0,1483,0.01,1171));
line(p,XG,G_L,R,'amanziu-line');line(p,XG,G_L,G,'amanzis-line');line(p,XG,G_L,B,'parflow-line');
line(p,XG,G_MR,R,'amanziu-line');line(p,XG,G_MG,G,'amanzis-line');line(p,XG,G_MB,B,'parflow-line');
line(p,XG,G_UR,R,'amanziu-line');stars(p,XG,G_UR,R,'amanziu-marker');
line(p,XG,G_UG,G,'amanzis-line');stars(p,XG,G_UG,G,'amanzis-marker');
line(p,XG,G_UB,B,'parflow-line');stars(p,XG,G_UB,B,'parflow-marker');
frame(p);xticks(p,[30,35,40,45,50,55,60,65,70],TICK_XF,18);yticks(p,[0,0.002,0.004,0.006,0.008,0.01],TICK_F,18);
label(p.g,1025,1546,'Distance (m)',19,'middle',0,'x-axis-title');
label(p.g,696,1325,'Total Sorbed Concent. [mol/m³]',19,'middle',1,'y-axis-title');
label(p.g,1275,1330,'(f) Sorption isotherms',23,'end',0,'panel-title');
legend(p.g,1032,1162,243,121,[{t:'l',c:R,l:'AmanziU + Alq (PFLOTRAN)'},{t:'s',c:R,l:'AmanziU + Alq (CrunchFlow)'},{t:'l',c:G,l:'AmanziS + Alq (PFLOTRAN)'},{t:'s',c:G,l:'AmanziS + Alq (CrunchFlow)'},{t:'l',c:B,l:'Parflow + Alq (PFLOTRAN)'},{t:'s',c:B,l:'Parflow + Alq (CrunchFlow)'}],20,1038,1066,1074,13.5);
</script>
</body></html>
